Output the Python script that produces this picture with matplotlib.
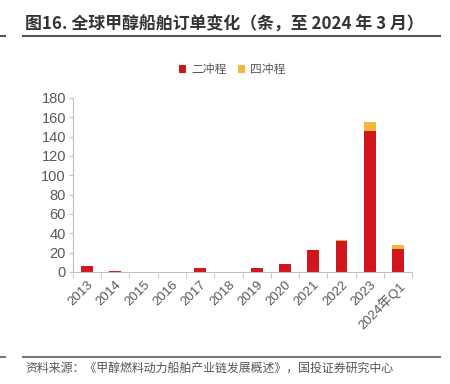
import matplotlib.pyplot as plt
import numpy as np
from matplotlib.lines import Line2D

plt.rcParams["font.family"] = ["Liberation Sans", "Noto Sans CJK SC", "DejaVu Sans"]
plt.rcParams["axes.unicode_minus"] = False

years = ["2013", "2014", "2015", "2016", "2017", "2018", "2019", "2020",
         "2021", "2022", "2023", "2024年Q1"]
two_stroke = [6, 1, 0, 0, 4, 0, 4, 8, 23, 32, 146, 24]
four_stroke = [0, 0, 0, 0, 0, 0, 0, 0, 0, 1, 9, 4]
y_ticks = [0, 20, 40, 60, 80, 100, 120, 140, 160, 180]

red = "#D2161E"
yellow = "#F0B83C"
grey = "#595959"
cjk = ["Noto Sans CJK SC", "DejaVu Sans"]

fig = plt.figure(figsize=(4.5, 3.84), dpi=100)
ax = fig.add_axes([0.162, 0.292, 0.754, 0.453])

x = np.arange(len(years))
ax.bar(x, two_stroke, width=0.42, color=red, label="二冲程")
ax.bar(x, four_stroke, width=0.42, bottom=two_stroke, color=yellow, label="四冲程")

ax.set_xlim(-0.5, len(years) - 0.5)
ax.set_ylim(0, 180)
ax.set_yticks(y_ticks)
ax.set_xticks(x)
ax.set_xticklabels(years, rotation=45, ha="right", rotation_mode="anchor")
ax.set_xticks(np.arange(len(years) + 1) - 0.5, minor=True)
ax.tick_params(axis="x", which="major", length=0, pad=5, labelsize=9.5, labelcolor=grey)
ax.tick_params(axis="x", which="minor", length=4, color="#BFBFBF")
ax.tick_params(axis="y", length=3, color="#BFBFBF", labelsize=10.5, labelcolor=grey, pad=2)
for s in ["top", "right"]:
    ax.spines[s].set_visible(False)
for s in ["left", "bottom"]:
    ax.spines[s].set_color("#BFBFBF")
    ax.spines[s].set_linewidth(0.8)

leg = ax.legend(loc="upper center", bbox_to_anchor=(0.47, 1.26), ncol=2, frameon=False,
                handlelength=0.6, handleheight=0.6, handletextpad=0.4,
                columnspacing=1.0, labelcolor=grey, prop={"family": cjk, "size": 8.5})

fig.text(0.056, 0.935, "图16. 全球甲醇船舶订单变化（条，至 2024 年 3 月）",
         fontsize=12.2, fontweight="bold", color="#333333", va="center", family=cjk)
fig.add_artist(Line2D([0.051, 0.978], [0.905, 0.905], color="#555555", lw=1.5))
fig.add_artist(Line2D([0.0, 0.012], [0.905, 0.905], color="#555555", lw=1.5))

fig.add_artist(Line2D([0.051, 0.978], [0.07, 0.07], color="#777777", lw=1.5))
fig.add_artist(Line2D([0.0, 0.012], [0.07, 0.07], color="#777777", lw=1.5))
fig.text(0.056, 0.04, "资料来源：《甲醇燃料动力船舶产业链发展概述》，国投证券研究中心",
         fontsize=8.6, color="#555555", va="center", family=cjk)

fig.savefig("out.png", dpi=100)
